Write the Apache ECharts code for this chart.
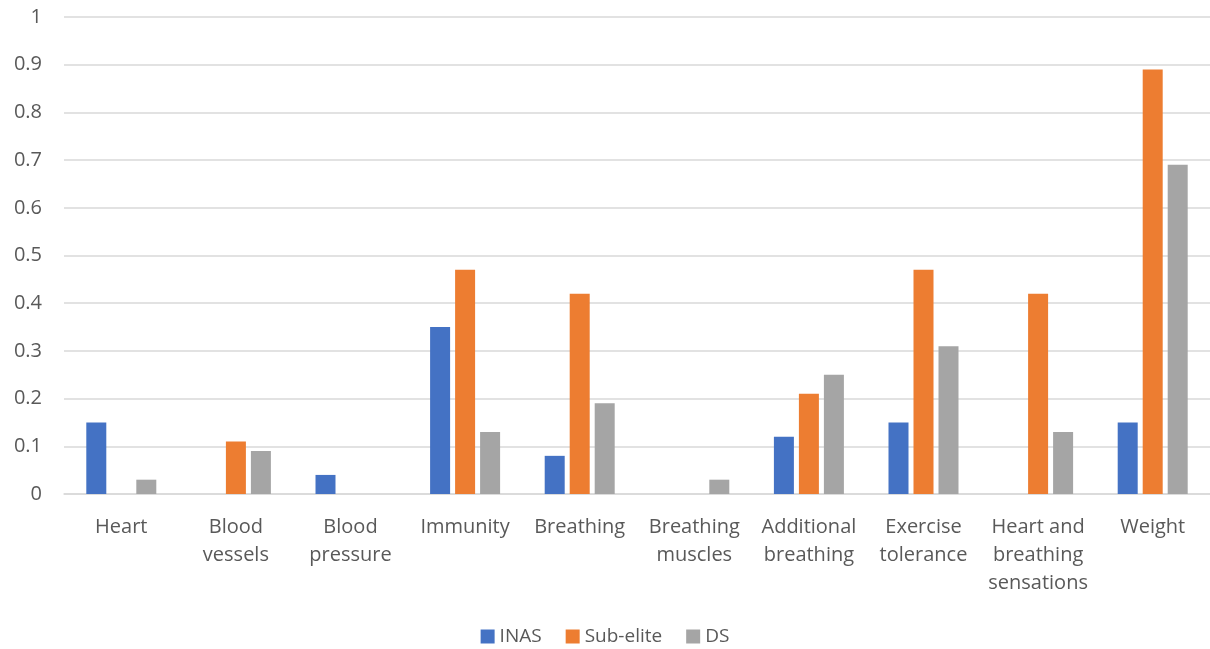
<!DOCTYPE html>
<html><head><meta charset="utf-8">
<script src="https://cdn.jsdelivr.net/npm/echarts@6/dist/echarts.min.js"></script>
<style>html,body{margin:0;padding:0;background:#fff}#c{width:1210px;height:649px}</style>
</head><body><div id="c"></div>
<script>
const categories = ['Heart', 'Blood\nvessels', 'Blood\npressure', 'Immunity', 'Breathing', 'Breathing\nmuscles', 'Additional\nbreathing', 'Exercise\ntolerance', 'Heart and\nbreathing\nsensations', 'Weight'];
const inas     = [0.15, 0, 0.04, 0.35, 0.08, 0, 0.12, 0.15, 0, 0.15];
const subElite = [0, 0.11, 0, 0.47, 0.42, 0, 0.21, 0.47, 0.42, 0.89];
const ds       = [0.03, 0.09, 0, 0.13, 0.19, 0.03, 0.25, 0.31, 0.13, 0.69];
const yTicks = [0, 0.1, 0.2, 0.3, 0.4, 0.5, 0.6, 0.7, 0.8, 0.9, 1];

const font = 'Open Sans, Lato, sans-serif';
const chart = echarts.init(document.getElementById('c'));
chart.setOption({
  animation: false,
  textStyle: {fontFamily: font},
  grid: {left: 64, right: -2, top: 17, bottom: 155, containLabel: false},
  legend: {
    bottom: -2, left: 'center', itemWidth: 14, itemHeight: 14, itemGap: 24,
    icon: 'rect',
    textStyle: {fontSize: 19, color: '#595959', fontFamily: font},
    data: ['INAS', 'Sub-elite', 'DS']
  },
  xAxis: {
    type: 'category', data: categories,
    axisLine: {lineStyle: {color: '#d9d9d9', width: 1.5}},
    axisTick: {show: false},
    axisLabel: {fontSize: 20, color: '#595959', lineHeight: 28, margin: 19, interval: 0, fontFamily: font}
  },
  yAxis: {
    type: 'value', min: 0, max: 1, interval: 0.1,
    axisLine: {show: false}, axisTick: {show: false},
    splitLine: {lineStyle: {color: '#d9d9d9', width: 1.5}},
    axisLabel: {fontSize: 20, color: '#595959', margin: 22, fontFamily: font,
      formatter: v => { const t = yTicks.find(x => Math.abs(x - v) < 1e-6); return String(t !== undefined ? t : v); }}
  },
  series: [
    {name: 'INAS', type: 'bar', data: inas, itemStyle: {color: '#4472c4'}, barWidth: 20, barGap: '25%'},
    {name: 'Sub-elite', type: 'bar', data: subElite, itemStyle: {color: '#ed7d31'}, barWidth: 20, barGap: '25%'},
    {name: 'DS', type: 'bar', data: ds, itemStyle: {color: '#a5a5a5'}, barWidth: 20, barGap: '25%'}
  ]
});
</script></body></html>
